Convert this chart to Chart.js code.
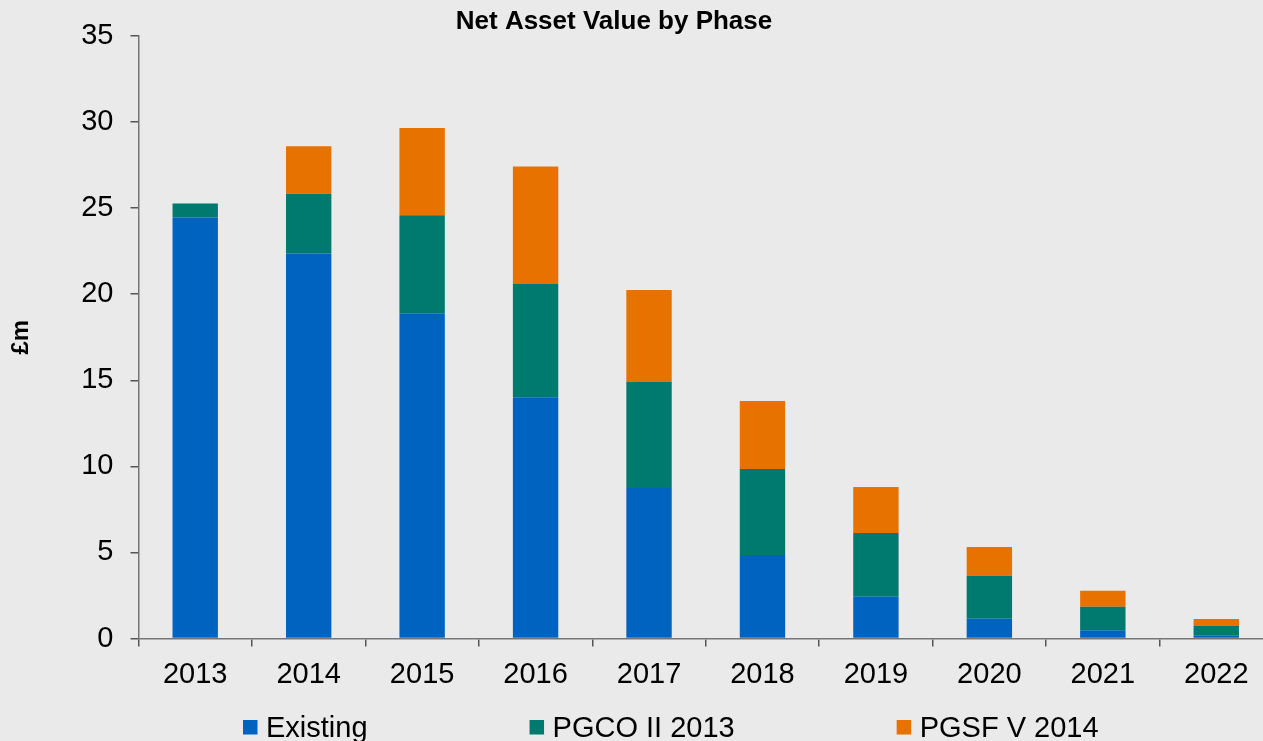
<!DOCTYPE html>
<html>
<head>
<meta charset="utf-8">
<title>Net Asset Value by Phase</title>
<script src="https://cdn.jsdelivr.net/npm/chart.js@4.4.1/dist/chart.umd.min.js"></script>
<style>
  html, body { margin: 0; padding: 0; background: #EAEAEA; overflow: hidden; }
  .chart-wrap { position: absolute; left: -45px; top: 0; width: 1318px; height: 741px; }
</style>
</head>
<body>
<div class="chart-wrap">
  <canvas id="myChart" width="1318" height="741"></canvas>
</div>
<script>
const years = ['2013', '2014', '2015', '2016', '2017', '2018', '2019', '2020', '2021', '2022'];
const existing = [24.45, 22.37, 18.86, 14.01, 8.74, 4.85, 2.43, 1.15, 0.48, 0.19];
const pgco = [0.82, 3.46, 5.73, 6.58, 6.16, 4.99, 3.70, 2.50, 1.37, 0.54];
const pgsf = [0, 2.77, 5.06, 6.83, 5.34, 3.95, 2.67, 1.66, 0.93, 0.40];
const yTicks = [0, 5, 10, 15, 20, 25, 30, 35];

const fontFamily = '"Liberation Sans", Arial, sans-serif';
Chart.defaults.font.family = fontFamily;
Chart.defaults.color = '#000';

// legend drawn by hand so the wide gaps between items match
const bottomLegend = {
  id: 'bottomLegend',
  afterDraw(chart) {
    const ctx = chart.ctx;
    const y = 727;
    let x = 288;
    ctx.save();
    ctx.font = '29px ' + fontFamily;
    ctx.textBaseline = 'middle';
    ctx.textAlign = 'left';
    chart.data.datasets.forEach(function(ds) {
      ctx.fillStyle = ds.backgroundColor;
      ctx.fillRect(x, y - 7, 14.5, 14.5);
      ctx.fillStyle = '#000';
      ctx.fillText(ds.label, x + 23, y + 2);
      x += 23 + ctx.measureText(ds.label).width + 162;
    });
    ctx.restore();
  }
};

const ctx = document.getElementById('myChart');
const data = {
  labels: years,
  datasets: [
    { label: 'Existing', data: existing, backgroundColor: '#0063BF' },
    { label: 'PGCO II 2013', data: pgco, backgroundColor: '#00796F' },
    { label: 'PGSF V 2014', data: pgsf, backgroundColor: '#E87200' }
  ]
};

new Chart(ctx, {
  type: 'bar',
  data: data,
  plugins: [bottomLegend],
  options: {
    responsive: false,
    animation: false,
    devicePixelRatio: 1,
    layout: { padding: { left: 0, right: 0, top: 0, bottom: 49.5 } },
    datasets: {
      bar: { categoryPercentage: 1, barPercentage: 0.4, borderWidth: 0 }
    },
    plugins: {
      legend: { display: false },
      tooltip: { enabled: false },
      title: {
        display: true,
        text: 'Net Asset Value by Phase',
        color: '#000',
        font: { size: 26, weight: 'bold', lineHeight: 1 },
        padding: { top: 9, bottom: 1 }
      }
    },
    scales: {
      x: {
        stacked: true,
        afterFit: function(scale) { scale.height = 53; },
        border: { display: true, color: '#767676', width: 1.5 },
        grid: { display: true, offset: true, drawOnChartArea: false, drawTicks: true, tickLength: 8, color: '#555', lineWidth: 1.5 },
        ticks: { font: { size: 29 }, color: '#000', padding: 11, maxRotation: 0 }
      },
      y: {
        stacked: true,
        min: 0,
        max: 35,
        afterFit: function(scale) { scale.width = 183.5; },
        afterBuildTicks: function(scale) { scale.ticks = yTicks.map(function(v) { return { value: v }; }); },
        border: { display: true, color: '#767676', width: 1.5 },
        grid: { display: true, drawOnChartArea: false, drawTicks: true, tickLength: 8, color: '#555', lineWidth: 1.5 },
        ticks: { font: { size: 29 }, color: '#000', padding: 17 },
        title: {
          display: true,
          text: '£m',
          color: '#000',
          font: { size: 24, weight: 'bold' },
          padding: { top: 52, bottom: 0 }
        }
      }
    }
  }
});
</script>
</body>
</html>
